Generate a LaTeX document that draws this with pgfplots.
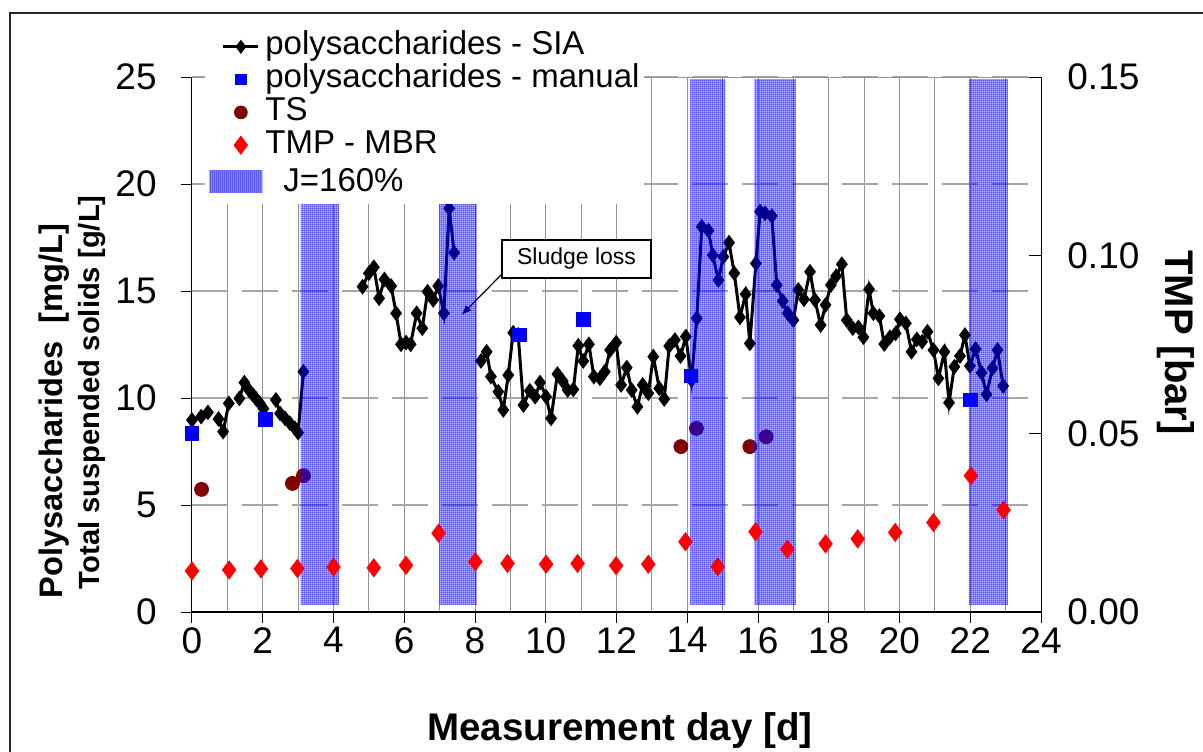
\documentclass[border=0pt]{standalone}
\usepackage{fontspec}
\setmainfont{Liberation Sans}
\usepackage{pgfplots}
\pgfplotsset{compat=1.18}
\usepackage{pgfplotstable}
\usetikzlibrary{patterns,arrows.meta}

\pgfdeclarepatternformonly{finegrid}{\pgfpointorigin}{\pgfqpoint{1.2pt}{1.2pt}}{\pgfqpoint{1.2pt}{1.2pt}}{%
  \pgfsetlinewidth{0.33pt}%
  \pgfpathmoveto{\pgfqpoint{0pt}{0.6pt}}\pgfpathlineto{\pgfqpoint{1.2pt}{0.6pt}}%
  \pgfpathmoveto{\pgfqpoint{0.6pt}{0pt}}\pgfpathlineto{\pgfqpoint{0.6pt}{1.2pt}}%
  \pgfusepath{stroke}}

\definecolor{tsred}{RGB}{128,0,0}

\pgfplotsset{
  clegend/.style={legend image code/.code={\draw[mark repeat=2,mark phase=2,##1] plot coordinates {(-8.75pt,0pt) (0pt,0pt) (8.75pt,0pt)};}},
  jlegend/.style={legend image code/.code={\path (0pt,11pt); \fill[pattern=finegrid, pattern color=blue] (-15.75pt,-4.2pt) rectangle (10.75pt,6.8pt);}},
}

\pgfplotstableread{
x y
0.00 8.97
nan nan
0.26 9.13
0.45 9.33
nan nan
0.75 9.02
0.88 8.43
1.04 9.75
nan nan
1.34 9.98
1.48 10.72
1.62 10.35
1.72 10.15
1.82 9.95
1.92 9.75
2.02 9.50
nan nan
2.37 9.91
2.49 9.28
2.63 9.05
2.77 8.82
2.91 8.58
3.00 8.38
3.15 11.23
nan nan
4.82 15.20
5.00 15.83
5.14 16.11
5.29 14.66
5.44 15.54
5.63 15.23
5.77 13.96
5.91 12.51
6.05 12.59
6.18 12.51
6.35 13.96
6.51 13.26
6.66 14.97
6.82 14.58
6.96 15.23
7.12 13.96
7.27 18.86
7.41 16.79
nan nan
8.17 11.73
8.33 12.16
8.45 11.00
8.66 10.29
8.80 9.44
8.94 11.07
9.08 13.05
9.22 12.95
9.37 9.67
9.55 10.34
9.70 10.06
9.84 10.72
10.01 10.06
10.15 9.05
10.33 11.12
10.48 10.79
10.62 10.37
10.78 10.40
10.92 12.44
11.06 11.73
11.22 12.51
11.36 11.00
11.53 10.92
11.67 11.23
11.82 12.24
11.99 12.59
12.13 10.61
12.29 11.42
12.43 10.37
12.59 9.59
12.74 10.61
12.90 10.22
13.04 11.93
13.21 10.45
13.35 9.95
13.49 12.43
13.65 12.71
13.81 11.96
13.96 12.87
14.12 10.84
14.27 13.72
14.41 18.00
14.60 17.82
14.72 16.68
14.88 15.51
15.02 16.60
15.18 17.26
15.33 15.83
15.49 13.77
15.65 14.85
15.77 12.55
15.94 16.29
16.06 18.71
16.20 18.63
16.39 18.50
16.53 15.28
16.70 14.53
16.84 13.96
17.00 13.64
17.14 15.05
17.30 14.61
17.47 15.90
17.61 14.58
17.77 13.41
17.91 14.35
18.06 15.28
18.21 15.70
18.37 16.25
18.51 13.64
18.68 13.26
18.84 13.30
18.98 12.84
19.14 15.08
19.26 13.96
19.43 13.83
19.57 12.52
19.73 12.84
19.89 13.02
20.01 13.68
20.18 13.49
20.34 12.16
20.49 12.74
20.64 12.63
20.79 13.10
20.96 12.24
21.10 10.92
21.27 12.16
21.40 9.78
21.55 11.46
21.71 11.96
21.85 12.94
21.99 11.50
22.15 12.29
22.32 11.18
22.46 10.17
22.63 11.39
22.77 12.24
22.93 10.56
}\siadata

\pgfplotstableread{
x y
0.00 8.35
2.07 9.00
9.25 12.94
11.06 13.68
14.10 11.04
22.01 9.91
}\manualdata

\pgfplotstableread{
x y
0.27 5.73
2.84 6.01
3.15 6.37
13.82 7.73
14.26 8.58
15.77 7.73
16.23 8.19
}\tsdata

\pgfplotstableread{
x y
0.00 0.0115
1.05 0.0118
1.95 0.0121
2.98 0.0122
4.00 0.0126
5.14 0.0124
6.05 0.0131
6.97 0.0221
8.01 0.0141
8.92 0.0136
10.01 0.0134
10.90 0.0136
11.99 0.0130
12.90 0.0134
13.95 0.0197
14.86 0.0127
15.93 0.0225
16.83 0.0176
17.91 0.0191
18.82 0.0205
19.88 0.0223
20.96 0.0251
22.02 0.0382
22.94 0.0286
}\tmpdata

\begin{document}
\begin{tikzpicture}
\begin{axis}[
  scale only axis, width=424.5pt, height=267.5pt,
  xmin=0, xmax=24, ymin=0, ymax=25,
  axis x line*=bottom, axis y line*=left,
  x axis line style={line width=0.9pt},
  y axis line style={line width=0.5pt},
  xtick={0,2,...,24}, minor x tick num=1,
  ytick={0,5,...,25},
  xmajorgrids, xminorgrids, ymajorgrids,
  grid style={gray!85, line width=0.5pt},
  y grid style={gray!70, line width=0.7pt, dash pattern=on 18pt off 7pt},
  tick align=outside, major tick length=5.5pt, minor tick length=0pt,
  tick style={black, line width=0.5pt},
  /pgf/number format/assume math mode=true,
  tick label style={font=\fontsize{18.5}{20}\selectfont},
  yticklabel style={anchor=east, inner sep=0pt, xshift=-12pt},
  xticklabel style={anchor=north, inner sep=0pt, yshift=-2pt},
  unbounded coords=jump,
]
\draw[gray!85, line width=0.5pt] (axis cs:0,25) -- (axis cs:24,25);
\addplot[black, line width=1.5pt, mark=diamond*, mark size=2.7pt, mark options={solid}] table[x=x,y=y] {\siadata};
\addplot[only marks, mark=square*, mark size=3.4pt, color=blue] table[x=x,y=y] {\manualdata};
\addplot[only marks, mark=*, mark size=3.5pt, color=tsred] table[x=x,y=y] {\tsdata};
\node[draw=black, fill=white, line width=0.6pt, minimum width=74.5pt, minimum height=19pt, inner sep=0pt, font=\fontsize{11.5}{13}\selectfont] at (axis cs:10.87,16.5) {Sludge loss};
\draw[-{Latex[length=5pt,width=4pt]}, line width=0.6pt] (axis cs:8.76,15.79) -- (axis cs:7.62,13.88);
\end{axis}

\begin{axis}[
  scale only axis, width=424.5pt, height=267.5pt,
  xmin=0, xmax=24, ymin=0, ymax=0.15,
  axis x line=none, axis y line*=right,
  y axis line style={line width=0.5pt},
  ytick={0,0.05,0.1,0.15},
  tick align=inside, major tick length=6pt,
  tick style={black, line width=0.5pt},
  /pgf/number format/.cd, fixed, fixed zerofill, precision=2, assume math mode=true,
  /pgfplots/.cd,
  tick label style={font=\fontsize{18.5}{20}\selectfont},
  yticklabel style={anchor=west, inner sep=0pt, xshift=13pt},
  legend cell align=left,
  legend style={at={(rel axis cs:0.0153,1.0953)}, anchor=north west, draw=none, fill=white,
    inner sep=2pt, column sep=1.5pt, row sep=0pt,
    font=\fontsize{16.5}{18}\selectfont,
    nodes={inner sep=0pt, text height=12.2pt, text depth=4.2pt}},
]
\addlegendimage{black, line width=1.4pt, mark=diamond*, mark size=2.4pt, clegend}
\addlegendentry{polysaccharides - SIA}
\addlegendimage{only marks, mark=square*, mark size=2.6pt, color=blue, clegend}
\addlegendentry{polysaccharides - manual}
\addlegendimage{only marks, mark=*, mark size=3.2pt, color=tsred, clegend}
\addlegendentry{TS}
\addplot[only marks, mark=diamond*, mark size=4.5pt, color=red, clegend] table[x=x,y=y] {\tmpdata};
\addlegendentry{TMP - MBR}
\addplot[draw=none, pattern=finegrid, pattern color=blue, forget plot] coordinates {(3.07,0.0021) (4.16,0.0021) (4.16,0.1494) (3.07,0.1494)} -- cycle;
\addplot[draw=none, pattern=finegrid, pattern color=blue, forget plot] coordinates {(6.99,0.0021) (8.05,0.0021) (8.05,0.1494) (6.99,0.1494)} -- cycle;
\addplot[draw=none, pattern=finegrid, pattern color=blue, forget plot] coordinates {(14.08,0.0021) (15.08,0.0021) (15.08,0.1494) (14.08,0.1494)} -- cycle;
\addplot[draw=none, pattern=finegrid, pattern color=blue, forget plot] coordinates {(15.90,0.0021) (17.07,0.0021) (17.07,0.1494) (15.90,0.1494)} -- cycle;
\addplot[draw=none, pattern=finegrid, pattern color=blue, jlegend] coordinates {(21.97,0.0021) (23.06,0.0021) (23.06,0.1494) (21.97,0.1494)} -- cycle;
\addlegendentry{\hspace{9pt}J=160\%}
\end{axis}

\node[rotate=90, anchor=base west, inner sep=0pt, font=\fontsize{16.3}{18}\selectfont\bfseries] at (-64.5pt,6.5pt) {Polysaccharides\ \ [mg/L]};
\node[rotate=90, anchor=base west, inner sep=0pt, font=\fontsize{14.6}{16}\selectfont\bfseries] at (-46.5pt,11.25pt) {Total suspended solids [g/L]};
\node[anchor=base, inner sep=0pt, font=\fontsize{19.25}{22}\selectfont\bfseries] at (214pt,-64pt) {Measurement day [d]};
\node[rotate=-90, anchor=base west, inner sep=0pt, font=\fontsize{20}{22}\selectfont\bfseries] at (486.5pt,181pt) {TMP [bar]};

\pgfresetboundingbox
\path[use as bounding box] (-96pt,-69.5pt) rectangle (505.5pt,306pt);
\draw[line width=0.7pt, black!85] (-91pt,-80pt) rectangle (520pt,299.5pt);
\end{tikzpicture}
\end{document}
